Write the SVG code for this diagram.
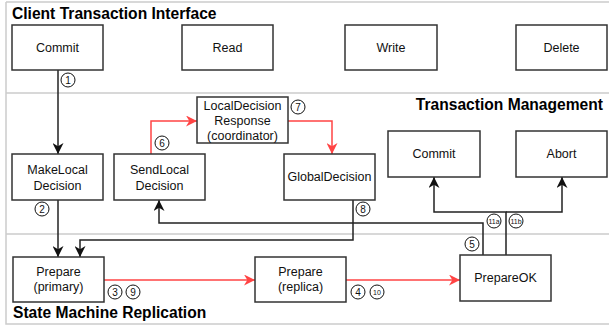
<svg xmlns="http://www.w3.org/2000/svg" width="609" height="326" viewBox="0 0 609 326">
<defs>
<style>
.lane{stroke:#cccccc;stroke-width:1.5;fill:none}
.box{fill:#ffffff;stroke:#333333;stroke-width:1.5}
.lbl{font-family:"Liberation Sans",Arial,sans-serif;font-size:12.5px;fill:#111111;text-anchor:middle;dominant-baseline:central}
.title{font-family:"Liberation Sans",Arial,sans-serif;font-size:15.6px;font-weight:bold;fill:#000000}
.k{fill:none;stroke:#222222;stroke-width:1.5}
.r{fill:none;stroke:#ff4444;stroke-width:1.5}
.c{fill:#ffffff;stroke:#111111;stroke-width:1}
.n{font-family:"Liberation Sans",Arial,sans-serif;font-size:10px;fill:#111111;text-anchor:middle;dominant-baseline:central}
.ns{font-family:"Liberation Sans",Arial,sans-serif;font-size:7px;fill:#111111;text-anchor:middle;dominant-baseline:central}
</style>
<marker id="akb" viewBox="0 0 10 10" refX="10" refY="5" markerWidth="11" markerHeight="11" markerUnits="userSpaceOnUse" orient="auto"><path d="M0,0 L10,5 L0,10 L3,5 z" fill="#111111"/></marker>
<marker id="ar" viewBox="0 0 10 10" refX="10" refY="5" markerWidth="11" markerHeight="11" markerUnits="userSpaceOnUse" orient="auto"><path d="M0,0 L10,5 L0,10 L3,5 z" fill="#ff4444"/></marker>
</defs>
<rect width="609" height="326" fill="#ffffff"/>
<g id="lanes">
<path class="lane" d="M6,2 H609 M6,2 V324 H609 M6,93 H609 M6,234 H609"/>
<text class="title" x="12" y="19">Client Transaction Interface</text>
<text class="title" x="603" y="110" text-anchor="end">Transaction Management</text>
<text class="title" x="13" y="318">State Machine Replication</text>
</g>
<g id="connectors">
<path class="k" d="M58,70 V154" marker-end="url(#akb)"/>
<path class="k" d="M58,200 V257" marker-end="url(#akb)"/>
<path class="r" d="M104,280 H255" marker-end="url(#ar)"/>
<path class="r" d="M346,280 H460" marker-end="url(#ar)"/>
<path class="k" d="M483,255 V223 H159 V200" marker-end="url(#akb)"/>
<path class="r" d="M151,154 V121 H197" marker-end="url(#ar)"/>
<path class="r" d="M288,121 H332 V154" marker-end="url(#ar)"/>
<path class="k" d="M353,200 V240 H80 V257" marker-end="url(#akb)"/>
<path class="k" d="M506,255 V212 H434 V177" marker-end="url(#akb)"/>
<path class="k" d="M506,212 H562 V177" marker-end="url(#akb)"/>
</g>
<g id="badges">
<circle class="c" cx="68" cy="80" r="7"/><text class="n" x="68" y="80">1</text>
<circle class="c" cx="42" cy="209" r="7"/><text class="n" x="42" y="209">2</text>
<circle class="c" cx="115" cy="292" r="7"/><text class="n" x="115" y="292">3</text>
<circle class="c" cx="133" cy="292" r="7"/><text class="n" x="133" y="292">9</text>
<circle class="c" cx="358" cy="292" r="7"/><text class="n" x="358" y="292">4</text>
<circle class="c" cx="377" cy="292" r="7"/><text class="ns" x="377" y="292">10</text>
<circle class="c" cx="472" cy="244" r="7"/><text class="n" x="472" y="244">5</text>
<circle class="c" cx="162" cy="143" r="7"/><text class="n" x="162" y="143">6</text>
<circle class="c" cx="298" cy="107" r="7"/><text class="n" x="298" y="107">7</text>
<circle class="c" cx="363" cy="209" r="7"/><text class="n" x="363" y="209">8</text>
<circle class="c" cx="494" cy="221" r="7"/><text class="ns" x="494" y="221">11a</text>
<circle class="c" cx="516" cy="221" r="7"/><text class="ns" x="516" y="221">11b</text>
</g>
<g id="n-commit"><rect class="box" x="12" y="25" width="91" height="45"/><text class="lbl" x="57.5" y="47.5">Commit</text></g>
<g id="n-read"><rect class="box" x="182" y="25" width="91" height="45"/><text class="lbl" x="227.5" y="47.5">Read</text></g>
<g id="n-write"><rect class="box" x="345" y="25" width="92" height="45"/><text class="lbl" x="391" y="47.5">Write</text></g>
<g id="n-delete"><rect class="box" x="516" y="25" width="91" height="45"/><text class="lbl" x="561.5" y="47.5">Delete</text></g>
<g id="n-makelocal"><rect class="box" x="12" y="154" width="91" height="46"/><text class="lbl" x="57.5" y="170">MakeLocal</text><text class="lbl" x="57.5" y="186">Decision</text></g>
<g id="n-sendlocal"><rect class="box" x="114" y="154" width="91" height="46"/><text class="lbl" x="159.5" y="170">SendLocal</text><text class="lbl" x="159.5" y="186">Decision</text></g>
<g id="n-ldr"><rect class="box" x="197" y="97" width="91" height="46"/><text class="lbl" x="242.5" y="106">LocalDecision</text><text class="lbl" x="242.5" y="121">Response</text><text class="lbl" x="242.5" y="136">(coordinator)</text></g>
<g id="n-global"><rect class="box" x="284" y="154" width="91" height="46"/><text class="lbl" x="329.5" y="177">GlobalDecision</text></g>
<g id="n-tmcommit"><rect class="box" x="388" y="131" width="92" height="46"/><text class="lbl" x="434" y="154">Commit</text></g>
<g id="n-abort"><rect class="box" x="516" y="131" width="91" height="46"/><text class="lbl" x="561.5" y="154">Abort</text></g>
<g id="n-primary"><rect class="box" x="13" y="257" width="91" height="45"/><text class="lbl" x="58.5" y="272">Prepare</text><text class="lbl" x="58.5" y="287">(primary)</text></g>
<g id="n-replica"><rect class="box" x="255" y="257" width="91" height="45"/><text class="lbl" x="300.5" y="272">Prepare</text><text class="lbl" x="300.5" y="287">(replica)</text></g>
<g id="n-prepareok"><rect class="box" x="460" y="255" width="91" height="46"/><text class="lbl" x="505.5" y="278">PrepareOK</text></g>
</svg>
